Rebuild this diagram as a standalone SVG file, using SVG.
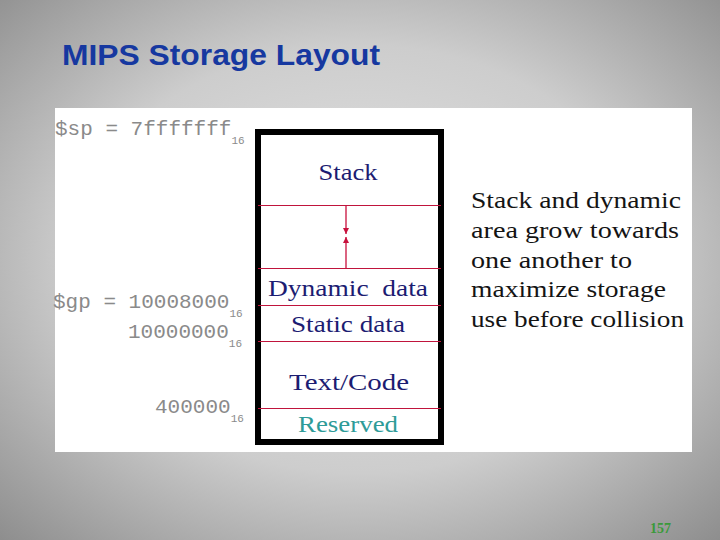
<svg xmlns="http://www.w3.org/2000/svg" width="720" height="540" viewBox="0 0 720 540">
  <defs>
    <radialGradient id="bg" cx="50%" cy="48%" r="72%">
      <stop offset="0" stop-color="#e4e4e4"/>
      <stop offset="0.55" stop-color="#cdcdcd"/>
      <stop offset="1" stop-color="#8e8e8e"/>
    </radialGradient>
    <marker id="ah" viewBox="0 0 6 6" refX="6" refY="3" markerWidth="6" markerHeight="6" markerUnits="userSpaceOnUse" orient="auto">
      <path d="M0,0 L6,3 L0,6 Z" fill="#c8103c"/>
    </marker>
    <style>
      .title { font-family: "Liberation Sans", Arial, sans-serif; font-weight: bold; font-size: 30px; fill: #1638a0; }
      .addr { font-family: "Liberation Mono", "Courier New", monospace; font-size: 21px; fill: #8a8a8a; }
      .sub { font-size: 11px; }
      .seg { font-family: "Liberation Serif", "Times New Roman", serif; font-size: 24px; fill: #1c1c72; text-anchor: middle; }
      .res { fill: #2e9b98; }
      .note { font-family: "Liberation Serif", "Times New Roman", serif; font-size: 24px; fill: #141414; }
      .divider { stroke: #c0143c; stroke-width: 1.2; }
      .grow { stroke: #c8103c; stroke-width: 1.3; fill: none; marker-end: url(#ah); }
    </style>
  </defs>

  <rect x="0" y="0" width="720" height="540" fill="url(#bg)"/>

  <text class="title" x="62" y="65" textLength="318" lengthAdjust="spacingAndGlyphs">MIPS Storage Layout</text>

  <rect x="55" y="108" width="637" height="344" fill="#ffffff"/>

  <g id="addresses">
    <text class="addr" x="55" y="135">$sp = 7fffffff<tspan class="sub" dy="9">16</tspan></text>
    <text class="addr" x="53" y="308">$gp = 10008000<tspan class="sub" dy="9">16</tspan></text>
    <text class="addr" x="128" y="338">10000000<tspan class="sub" dy="9">16</tspan></text>
    <text class="addr" x="155" y="413">400000<tspan class="sub" dy="9">16</tspan></text>
  </g>

  <g id="memory-box">
    <rect x="258" y="132" width="183" height="310" fill="#ffffff" stroke="#000000" stroke-width="6"/>
  </g>

  <g id="stack">
    <text class="seg" x="348" y="180" textLength="59" lengthAdjust="spacingAndGlyphs">Stack</text>
    <line class="divider" x1="258" y1="205.5" x2="441" y2="205.5"/>
  </g>

  <g id="dynamic-data">
    <line class="divider" x1="258" y1="268.5" x2="441" y2="268.5"/>
    <text class="seg" x="348" y="296" textLength="160" lengthAdjust="spacingAndGlyphs" xml:space="preserve">Dynamic  data</text>
  </g>

  <g id="static-data">
    <line class="divider" x1="258" y1="305.5" x2="441" y2="305.5"/>
    <text class="seg" x="348" y="332" textLength="114" lengthAdjust="spacingAndGlyphs">Static data</text>
  </g>

  <g id="text-code">
    <line class="divider" x1="258" y1="341.5" x2="441" y2="341.5"/>
    <text class="seg" x="349" y="390" textLength="120" lengthAdjust="spacingAndGlyphs">Text/Code</text>
  </g>

  <g id="reserved">
    <line class="divider" x1="258" y1="408.5" x2="441" y2="408.5"/>
    <text class="seg res" x="348" y="432" textLength="100" lengthAdjust="spacingAndGlyphs">Reserved</text>
  </g>

  <g id="connectors">
    <line class="grow" x1="346" y1="206" x2="346" y2="234"/>
    <line class="grow" x1="346" y1="268" x2="346" y2="237"/>
  </g>

  <g id="note">
    <text class="note" x="471" y="208" textLength="210" lengthAdjust="spacingAndGlyphs">Stack and dynamic</text>
    <text class="note" x="471" y="238" textLength="208" lengthAdjust="spacingAndGlyphs">area grow towards</text>
    <text class="note" x="471" y="268" textLength="161" lengthAdjust="spacingAndGlyphs">one another to</text>
    <text class="note" x="471" y="297" textLength="195" lengthAdjust="spacingAndGlyphs">maximize storage</text>
    <text class="note" x="471" y="327" textLength="213" lengthAdjust="spacingAndGlyphs">use before collision</text>
  </g>

  <text x="650" y="533" font-family="'Liberation Serif', 'Times New Roman', serif" font-weight="bold" font-size="14" fill="#3a9a3a" textLength="21" lengthAdjust="spacingAndGlyphs">157</text>
</svg>
